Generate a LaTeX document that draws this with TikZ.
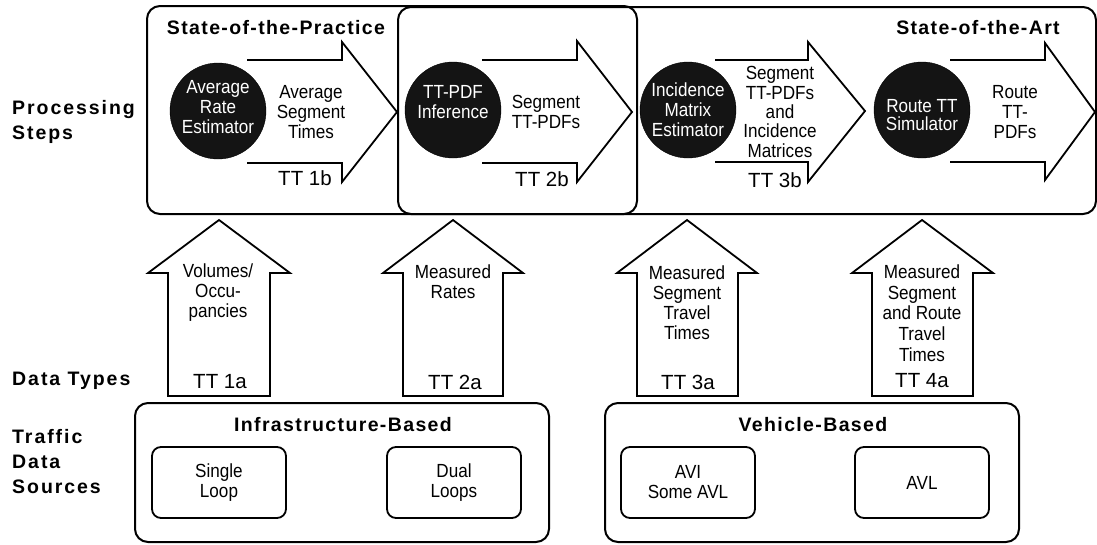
\documentclass[tikz,border=0pt]{standalone}
\usepackage{fontspec}
\setmainfont{Liberation Sans}
\newfontfamily\narrowfont{Liberation Sans}[FakeStretch=0.9]
\newfontfamily\hdrfamily{Liberation Sans}[LetterSpace=7]
\newfontfamily\sidefamily{Liberation Sans}[LetterSpace=10]
\tikzset{
  lbl/.style={font=\narrowfont\fontsize{19}{20}\selectfont, align=center, inner sep=0pt},
  ttl/.style={font=\fontsize{20.5}{22}\selectfont, inner sep=0pt},
  hdr/.style={font=\hdrfamily\bfseries\fontsize{19.5}{22}\selectfont, inner sep=0pt},
  side/.style={font=\sidefamily\bfseries\fontsize{19.5}{25}\selectfont, align=left, anchor=west, inner sep=0pt},
  proc/.style={circle, fill=black!92, draw=black, minimum size=96pt, inner sep=0pt},
  bigbox/.style={draw, line width=2pt, rounded corners=13pt},
  srcbox/.style={draw, line width=1.8pt, rounded corners=9pt, minimum width=134pt, minimum height=71pt},
  blockarrow/.style={draw, line width=1.8pt, line join=miter},
}
\begin{document}
\begin{tikzpicture}[x=1pt,y=-1pt]
\useasboundingbox[fill=white] (0,0) rectangle (1097,544);

% --- top boxes
\draw[bigbox] (147,6) rectangle (637,214);
\draw[bigbox] (398,7) rectangle (1096,214);
\node[hdr] (practice) at (276,28) {State-of-the-Practice};
\node[hdr] (art) at (978,28) {State-of-the-Art};

% --- left labels
\node[side] (procsteps) at (12,122) {Processing\\Steps};
\node[side] (datatypes) at (12,381) {Data Types};
\node[side] (sources) at (12,462) {Traffic\\Data\\Sources};

% --- right block arrows
\draw[blockarrow] (247,60) -- (342,60) -- (342,42) -- (397,112) -- (342,182) -- (342,163) -- (247,163);
\draw[blockarrow] (482,60) -- (577,60) -- (577,41) -- (632,112) -- (577,182) -- (577,163) -- (482,163);
\draw[blockarrow] (715,60) -- (808,60) -- (808,42) -- (865,111) -- (808,182) -- (808,162) -- (715,162);
\draw[blockarrow] (950,60) -- (1045,60) -- (1045,43) -- (1095,112) -- (1045,180) -- (1045,162) -- (950,162);

% --- processing circles
\node[proc] (c1) at (218,111) {};
\node[proc] (c2) at (453,110) {};
\node[proc] (c3) at (688,110) {};
\node[proc] (c4) at (922,110) {};
\node[lbl, text=white] (c1t) at (218,107) {Average\\Rate\\Estimator};
\node[lbl, text=white] (c2t) at (453,102) {TT-PDF\\Inference};
\node[lbl, text=white] (c3t) at (688,110) {Incidence\\Matrix\\Estimator};
\node[lbl, text=white, font=\narrowfont\fontsize{19}{18}\selectfont] (c4t) at (922,115) {Route TT\\Simulator};

% --- texts in right arrows
\node[lbl] (a1t) at (311,112) {Average\\Segment\\Times};
\node[lbl] (a2t) at (546,112) {Segment\\TT-PDFs};
\node[lbl, font=\narrowfont\fontsize{19}{19.3}\selectfont] (a3t) at (780,112) {Segment\\TT-PDFs\\and\\Incidence\\Matrices};
\node[lbl] (a4t) at (1015,112) {Route\\TT-\\PDFs};
\node[ttl] (tt1b) at (305,178) {TT 1b};
\node[ttl] (tt2b) at (542,179) {TT 2b};
\node[ttl] (tt3b) at (775,180) {TT 3b};

% --- up block arrows
\foreach \sl/\sr/\hl/\hr/\tp in {168/270/148/290/219, 403/503/383/523/453, 637/738/617/757/687, 872/973/852/993/922}{
  \draw[blockarrow] (\sl,396) -- (\sl,273) -- (\hl,273) -- (\tp,220) -- (\hr,273) -- (\sr,273) -- (\sr,396) -- cycle;
}
\node[lbl] (u1t) at (218,292.5) {Volumes/\\Occu-\\pancies};
\node[lbl] (u2t) at (453,282) {Measured\\Rates};
\node[lbl] (u3t) at (687,302.5) {Measured\\Segment\\Travel\\Times};
\node[lbl, font=\narrowfont\fontsize{19}{20.7}\selectfont] (u4t) at (922,313) {Measured\\Segment\\and Route\\Travel\\Times};
\node[ttl] (tt1a) at (220,382) {TT 1a};
\node[ttl] (tt2a) at (455,382) {TT 2a};
\node[ttl] (tt3a) at (688,382) {TT 3a};
\node[ttl] (tt4a) at (922,381) {TT 4a};

% --- bottom source boxes
\draw[bigbox] (135,403) rectangle (549,542);
\draw[bigbox] (605,403) rectangle (1019,542);
\node[hdr] (infra) at (343,425) {Infrastructure-Based};
\node[hdr] (veh) at (813,425) {Vehicle-Based};
\node[srcbox, lbl] (single) at (219,482.5) {Single\\Loop};
\node[srcbox, lbl] (dual) at (454,482.5) {Dual\\Loops};
\node[srcbox, lbl] (avi) at (688,482.5) {AVI\\Some AVL};
\node[srcbox, lbl] (avl) at (922,482.5) {AVL};
\end{tikzpicture}
\end{document}
